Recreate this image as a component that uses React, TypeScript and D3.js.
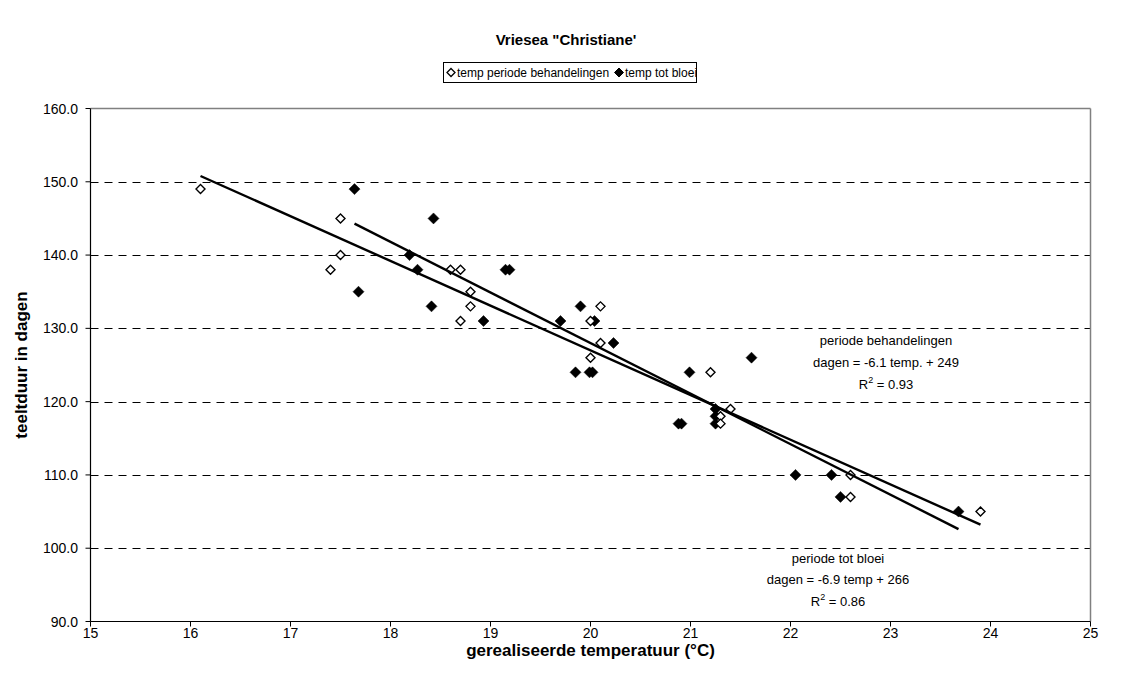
import React from "react";
import * as d3 from "d3";

// ---- data ----
const behandelingenTemp = [16.1, 17.5, 17.5, 17.4, 18.6, 18.7, 18.8, 18.8, 18.7, 20.1, 20.0, 20.1, 20.0, 21.2, 21.4, 21.3, 21.3, 22.6, 22.6, 23.9];
const behandelingenDagen = [149, 145, 140, 138, 138, 138, 135, 133, 131, 133, 131, 128, 126, 124, 119, 118, 117, 110, 107, 105];

const bloeiTemp = [17.64, 17.68, 18.19, 18.27, 18.43, 18.41, 18.93, 19.15, 19.19, 19.7, 19.9, 20.04, 20.23, 19.85, 19.99, 20.02, 20.99, 21.61, 20.88, 20.91, 21.25, 21.25, 21.25, 22.05, 22.41, 22.5, 23.68];
const bloeiDagen = [149, 135, 140, 138, 145, 133, 131, 138, 138, 131, 133, 131, 128, 124, 124, 124, 124, 126, 117, 117, 119, 118, 117, 110, 110, 107, 105];

// trendlines as shown in the chart: dagen = slope * temp + intercept
const trendSlopes = [-6.1, -6.9];
const trendIntercepts = [249, 266];

const xTicks = [15, 16, 17, 18, 19, 20, 21, 22, 23, 24, 25];
const yTicks = [90, 100, 110, 120, 130, 140, 150, 160];

const title = 'Vriesea "Christiane\'';
const xTitle = "gerealiseerde temperatuur (°C)";
const yTitle = "teeltduur in dagen";
const legendLabels = ["temp periode behandelingen", "temp tot bloei"];

const FONT = "Arial, 'Liberation Sans', sans-serif";

export default function App() {
  const W = 1131, H = 686;
  const left = 90.5, right = 1090.5, top = 108.5, bottom = 621.5;
  const x = d3.scaleLinear().domain([15, 25]).range([left, right]);
  const y = d3.scaleLinear().domain([90, 160]).range([bottom, top]);

  const diamond = (cx: number, cy: number, r: number) =>
    `M${cx},${cy - r}L${cx + r},${cy}L${cx},${cy + r}L${cx - r},${cy}Z`;

  const trend = (k: number, temps: number[]) => {
    const [mn, mx] = d3.extent(temps) as [number, number];
    const f = (t: number) => trendSlopes[k] * t + trendIntercepts[k];
    const gen = d3.line<number>().x((t) => x(t)).y((t) => y(f(t)));
    return gen([mn, mx]) || "";
  };

  return (
    <svg width={W} height={H} style={{ position: "absolute", left: 0, top: 0, background: "#fff" }} fontFamily={FONT}>
      <rect x={0} y={0} width={W} height={H} fill="#fff" />
      <text x={566} y={45} textAnchor="middle" fontWeight="bold" fontSize={15}>{title}</text>

      {/* legend */}
      <rect x={443.5} y={62.5} width={253} height={20} fill="#fff" stroke="#000" strokeWidth={1} />
      <path d={diamond(451, 72.5, 4)} fill="#fff" stroke="#000" strokeWidth={1.3} />
      <text x={457} y={77} fontSize={12}>{legendLabels[0]}</text>
      <path d={diamond(619, 72.5, 4.5)} fill="#000" stroke="#000" strokeWidth={1} />
      <text x={625} y={77} fontSize={12}>{legendLabels[1]}</text>

      {/* gridlines */}
      {yTicks.filter((v) => v > 90 && v < 160).map((v) => (
        <line key={"g" + v} x1={left} x2={right} y1={Math.round(y(v)) + 0.5} y2={Math.round(y(v)) + 0.5} stroke="#000" strokeWidth={1} strokeDasharray="8,6" />
      ))}
      {/* plot border top/right */}
      <line x1={left} x2={right} y1={top} y2={top} stroke="#808080" strokeWidth={1.5} />
      <line x1={right} x2={right} y1={top} y2={bottom} stroke="#808080" strokeWidth={1.5} />

      {/* axes */}
      <line x1={left} x2={left} y1={top} y2={bottom} stroke="#000" strokeWidth={1.2} />
      <line x1={left} x2={right} y1={bottom} y2={bottom} stroke="#000" strokeWidth={1.2} />
      {yTicks.map((v) => (
        <g key={"y" + v}>
          <line x1={left - 5} x2={left} y1={y(v)} y2={y(v)} stroke="#000" strokeWidth={1} />
          <text x={78} y={y(v) + 5} textAnchor="end" fontSize={14}>{v.toFixed(1)}</text>
        </g>
      ))}
      {xTicks.map((t) => (
        <g key={"x" + t}>
          <line x1={x(t)} x2={x(t)} y1={bottom} y2={bottom + 5} stroke="#000" strokeWidth={1} />
          <text x={x(t)} y={638} textAnchor="middle" fontSize={14}>{t}</text>
        </g>
      ))}
      <text x={(left + right) / 2} y={656} textAnchor="middle" fontWeight="bold" fontSize={17}>{xTitle}</text>
      <text transform={`translate(27,${(top + bottom) / 2}) rotate(-90)`} textAnchor="middle" fontWeight="bold" fontSize={17}>{yTitle}</text>

      {/* points */}
      {bloeiTemp.map((t, i) => (
        <path key={"f" + i} d={diamond(x(t), y(bloeiDagen[i]), 5.5)} fill="#000" stroke="#000" strokeWidth={0.5} />
      ))}
      {behandelingenTemp.map((t, i) => (
        <path key={"o" + i} d={diamond(x(t), y(behandelingenDagen[i]), 4.5)} fill="#fff" stroke="#000" strokeWidth={1.4} />
      ))}

      {/* trendlines */}
      <path d={trend(0, behandelingenTemp)} stroke="#000" strokeWidth={2.4} fill="none" />
      <path d={trend(1, bloeiTemp)} stroke="#000" strokeWidth={2.4} fill="none" />

      {/* annotations */}
      <text x={886} y={345} textAnchor="middle" fontSize={13}>periode behandelingen</text>
      <text x={886} y={367} textAnchor="middle" fontSize={13}>dagen = -6.1 temp. + 249</text>
      <text x={886} y={389} textAnchor="middle" fontSize={13}>R<tspan dy={-6} fontSize={9}>2</tspan><tspan dy={6}> = 0.93</tspan></text>

      <text x={838} y={563} textAnchor="middle" fontSize={13}>periode tot bloei</text>
      <text x={838} y={584} textAnchor="middle" fontSize={13}>dagen = -6.9 temp + 266</text>
      <text x={838} y={606} textAnchor="middle" fontSize={13}>R<tspan dy={-6} fontSize={9}>2</tspan><tspan dy={6}> = 0.86</tspan></text>
    </svg>
  );
}
